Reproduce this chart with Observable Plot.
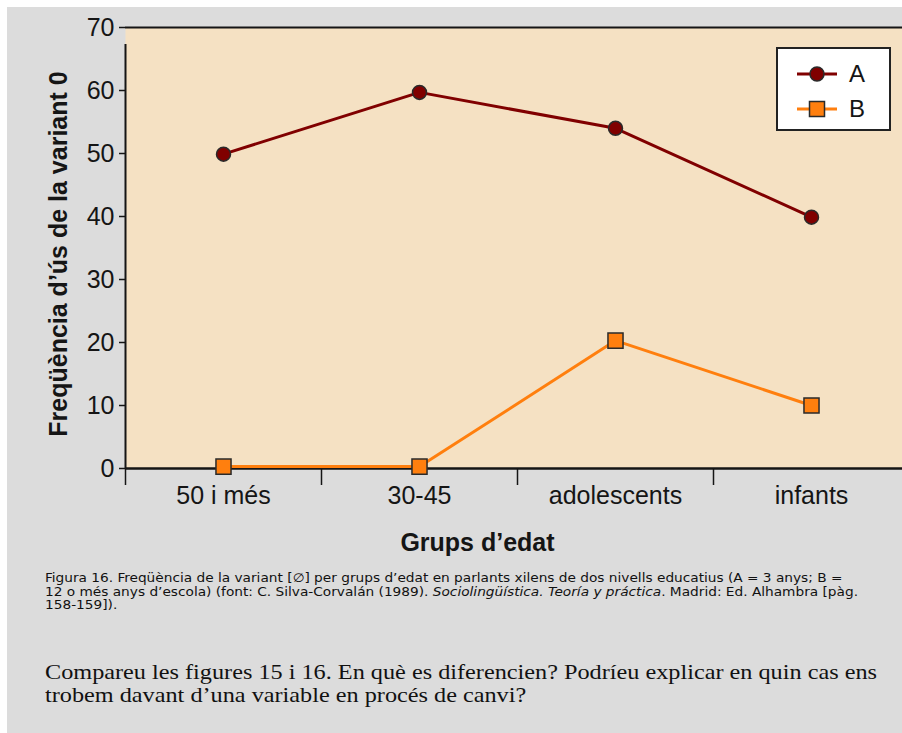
<!DOCTYPE html>
<html><head><meta charset="utf-8">
<script src="https://cdn.jsdelivr.net/npm/d3@7"></script>
<script src="https://cdn.jsdelivr.net/npm/@observablehq/plot@0.6"></script>
<style>
html,body{margin:0;padding:0;background:#fff;overflow:hidden;width:902px;height:733px;}
#panel{position:absolute;left:7px;top:7px;width:895px;height:726px;background:#dcdcdc;overflow:hidden;}
#chart{position:absolute;left:0;top:0;width:902px;}
#chart svg{max-width:none !important;}
#legend{position:absolute;left:769px;top:40px;}
#caption{position:absolute;left:38px;top:565px;font-family:"DejaVu Sans Condensed","Liberation Sans Narrow",sans-serif;font-size:12px;line-height:13.7px;color:#111;white-space:nowrap;transform-origin:0 0;}
#caption span{display:inline-block;height:13.7px;line-height:13.7px;}
#question{position:absolute;left:38px;top:654px;font-family:"Liberation Serif","DejaVu Serif",serif;font-size:21px;line-height:23px;color:#111;white-space:nowrap;transform-origin:0 0;}
</style></head>
<body>
<div id="panel">
  <div id="chart"></div>
  <div id="legend"></div>
  <div id="caption"><span>Figura 16. Freqüència de la variant [∅] per grups d’edat en parlants xilens de dos nivells educatius (A = 3 anys; B =</span><br><span>12 o més anys d’escola) (font: C. Silva-Corvalán (1989). <i>Sociolingüística. Teoría y práctica</i>. Madrid: Ed. Alhambra [pàg.</span><br><span>158-159]).</span></div>
  <div id="question"><span>Compareu les figures 15 i 16. En què es diferencien? Podríeu explicar en quin cas ens</span><br><span>trobem davant d’una variable en procés de canvi?</span></div>
</div>
<script>
const categories = ["50 i més", "30-45", "adolescents", "infants"];
const seriesNames = ["A", "B"];
const valuesA = [49.9, 59.7, 54.0, 39.9];
const valuesB = [0.3, 0.3, 20.3, 10.0];
const yTicks = [0, 10, 20, 30, 40, 50, 60, 70];
const colorA = "#800000";
const colorB = "#ff7f0e";
const yLabel = "Freqüència d’ús de la variant 0";
const xLabel = "Grups d’edat";

const rows = [];
categories.forEach((c, i) => {
  rows.push({cat: c, idx: i + 0.5, series: "A", value: valuesA[i]});
  rows.push({cat: c, idx: i + 0.5, series: "B", value: valuesB[i]});
});
const rowsA = rows.filter(d => d.series === "A");
const rowsB = rows.filter(d => d.series === "B");
const ink = "#151515";

const chart = Plot.plot({
  width: 902, height: 560,
  marginLeft: 118, marginRight: 0, marginTop: 20, marginBottom: 99,
  x: {domain: [0, categories.length], axis: null},
  y: {domain: [0, 70], axis: null},
  style: {background: "transparent", fontFamily: "'Liberation Sans', Arial, sans-serif", color: ink, maxWidth: "none"},
  marks: [
    Plot.frame({fill: "#f5e1c3", stroke: null}),
    Plot.ruleY([70], {stroke: ink, strokeWidth: 2}),
    Plot.ruleY([0], {stroke: ink, strokeWidth: 2.5}),
    Plot.ruleX([0], {y1: 0, y2: 70, insetBottom: -17, stroke: ink, strokeWidth: 2}),
    Plot.axisY({ticks: yTicks, tickSize: 6, tickPadding: 5, fontSize: 25, label: null, strokeWidth: 1.5, stroke: ink}),
    Plot.axisX({ticks: categories.map((c, i) => i), tickSize: 17, tickFormat: () => "", label: null, strokeWidth: 1.5, stroke: ink}),
    Plot.axisX({ticks: categories.map((c, i) => i + 0.5), tickSize: 0, tickPadding: 18, tickFormat: d => categories[Math.floor(d)], fontSize: 25, label: null}),
    Plot.line(rowsA, {x: "idx", y: "value", stroke: colorA, strokeWidth: 3}),
    Plot.line(rowsB, {x: "idx", y: "value", stroke: colorB, strokeWidth: 3}),
    Plot.dot(rowsA, {x: "idx", y: "value", symbol: "circle", r: 7, fill: colorA, stroke: "#2a2a2a", strokeWidth: 1.5}),
    Plot.dot(rowsB, {x: "idx", y: "value", symbol: "square", r: 8.5, fill: colorB, stroke: "#2a2a2a", strokeWidth: 1.5}),
    Plot.text([yLabel], {frameAnchor: "left", textAnchor: "middle", rotate: -90, dx: -67, dy: 6, fontSize: 25, fontWeight: "bold", fill: ink}),
    Plot.text([xLabel], {frameAnchor: "bottom", textAnchor: "middle", dx: -40, dy: 82, fontSize: 25, fontWeight: "bold", fill: ink})
  ]
});
document.getElementById("chart").appendChild(chart);

// legend
const lg = d3.select("#legend").append("svg").attr("width", 116).attr("height", 86);
lg.append("rect").attr("x", 1).attr("y", 1).attr("width", 113).attr("height", 82)
  .attr("fill", "#fff").attr("stroke", "#222").attr("stroke-width", 2);
const entries = [{name: seriesNames[0], color: colorA, sym: "circle", y: 27}, {name: seriesNames[1], color: colorB, sym: "square", y: 62}];
entries.forEach(e => {
  lg.append("line").attr("x1", 21).attr("x2", 61).attr("y1", e.y).attr("y2", e.y).attr("stroke", e.color).attr("stroke-width", 3);
  if (e.sym === "circle") lg.append("circle").attr("cx", 41).attr("cy", e.y).attr("r", 7).attr("fill", e.color).attr("stroke", "#2a2a2a").attr("stroke-width", 1.5);
  else lg.append("rect").attr("x", 33.5).attr("y", e.y - 7.5).attr("width", 15).attr("height", 15).attr("fill", e.color).attr("stroke", "#2a2a2a").attr("stroke-width", 1.5);
  lg.append("text").attr("x", 73).attr("y", e.y).attr("dy", "0.35em").attr("font-size", 24)
    .attr("font-family", "'Liberation Sans', Arial, sans-serif").attr("fill", ink).text(e.name);
});

// fit text blocks horizontally to the reference widths
function fitWidth(id, target) {
  const el = document.getElementById(id);
  const w = Math.max(...Array.from(el.querySelectorAll(":scope > span")).map(s => s.getBoundingClientRect().width));
  if (w > 0) el.style.transform = `scaleX(${target / w})`;
}
fitWidth("caption", 813);
fitWidth("question", 832);
</script>
</body></html>
